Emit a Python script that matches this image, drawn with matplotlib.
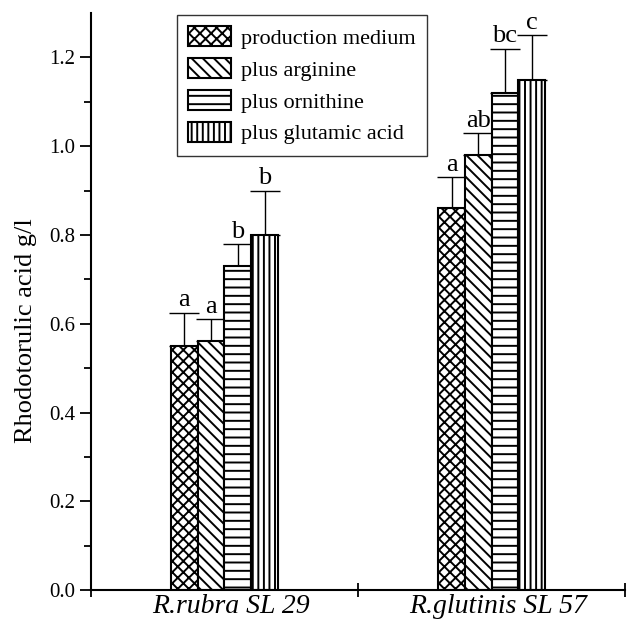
import matplotlib
matplotlib.use('Agg')
import matplotlib.pyplot as plt
import matplotlib.patches as mpatches
import numpy as np

# Data
strains = ['R.rubra SL 29', 'R.glutinis SL 57']
treatments = ['production medium', 'plus arginine', 'plus ornithine', 'plus glutamic acid']
values = {
    'production medium': [0.55, 0.86],
    'plus arginine': [0.56, 0.98],
    'plus ornithine': [0.73, 1.12],
    'plus glutamic acid': [0.80, 1.15],
}
errors = {
    'production medium': [0.075, 0.07],
    'plus arginine': [0.05, 0.05],
    'plus ornithine': [0.05, 0.10],
    'plus glutamic acid': [0.10, 0.10],
}
letters = {
    'production medium': ['a', 'a'],
    'plus arginine': ['a', 'ab'],
    'plus ornithine': ['b', 'bc'],
    'plus glutamic acid': ['b', 'c'],
}
hatches = ['xxx', '\\\\\\', '--', '|||']


def main():
    plt.rcParams['font.family'] = ['Liberation Serif', 'DejaVu Serif']
    plt.rcParams['hatch.linewidth'] = 1.4

    fig = plt.figure(figsize=(6.27, 6.25), dpi=100)
    ax = fig.add_axes([0.145, 0.056, 0.852, 0.923])

    x = np.arange(1, len(strains) + 1)
    width = 0.1
    offsets = [-1.5, -0.5, 0.5, 1.5]

    handles = []
    for name, off, h in zip(treatments, offsets, hatches):
        pos = x + off * width
        ax.bar(pos, values[name], width, facecolor='white', edgecolor='black',
               hatch=h, linewidth=1.5, zorder=2)
        ax.errorbar(pos, values[name], yerr=[np.zeros(len(strains)), errors[name]],
                    fmt='none', ecolor='black', elinewidth=1, capsize=11,
                    capthick=1, zorder=1)
        for px, v, e, lab in zip(pos, values[name], errors[name], letters[name]):
            ax.text(px, v + e + 0.003, lab, ha='center', va='bottom', fontsize=19)
        handles.append(mpatches.Patch(facecolor='white', edgecolor='black',
                                      hatch=h, linewidth=1.5, label=name))

    ax.set_xlim(0.5, 2.5)
    ax.set_ylim(0, 1.3)

    ax.spines['top'].set_visible(False)
    ax.spines['right'].set_visible(False)
    ax.spines['left'].set_linewidth(1.5)
    ax.spines['bottom'].set_linewidth(1.5)

    ax.set_yticks(np.arange(0, 1.21, 0.2))
    ax.set_yticklabels([f'{t:.1f}' for t in np.arange(0, 1.21, 0.2)], fontsize=15)
    ax.set_yticks(np.arange(0.1, 1.21, 0.2), minor=True)
    ax.tick_params(axis='y', which='major', direction='out', length=8, width=1.3)
    ax.tick_params(axis='y', which='minor', direction='out', length=5, width=1.3)

    # category labels without tick marks, boundary ticks crossing the axis
    ax.set_xticks([0.5, 1.5, 2.5])
    ax.set_xticklabels(['', '', ''])
    ax.tick_params(axis='x', which='major', direction='inout', length=10, width=1.3)
    ax.set_xticks(x + 0.025, minor=True)
    ax.set_xticklabels(strains, minor=True, fontsize=20, style='italic')
    ax.tick_params(axis='x', which='minor', length=0, pad=3)

    ax.set_ylabel('Rhodotorulic acid g/l', fontsize=19)
    ax.yaxis.set_label_coords(-0.10, 0.45)

    leg = ax.legend(handles=handles, loc='upper left', bbox_to_anchor=(0.161, 0.9965),
                    fontsize=16, frameon=True, fancybox=False, edgecolor='black',
                    handlelength=1.95, handleheight=1.0, handletextpad=0.45,
                    labelspacing=0.42, borderpad=0.5, borderaxespad=0)
    leg.get_frame().set_linewidth(1.0)

    fig.savefig('out.png', dpi=100)


if __name__ == '__main__':
    main()
